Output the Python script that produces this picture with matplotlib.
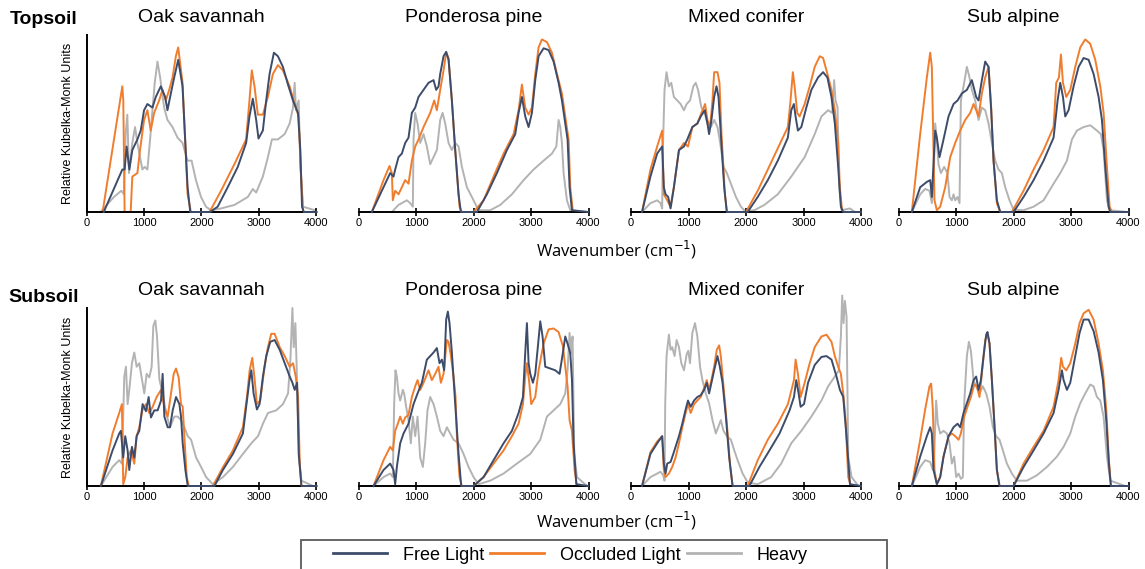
import matplotlib
matplotlib.use("Agg")
import matplotlib.pyplot as plt
from matplotlib.lines import Line2D
from matplotlib.patches import Rectangle

# ---------------- data (wavenumber cm-1, relative K-M units) ----------------
sites = ["Oak savannah", "Ponderosa pine", "Mixed conifer", "Sub alpine"]
rows = ["Topsoil", "Subsoil"]
series_names = ["Free Light", "Occluded Light", "Heavy"]
xticks = [0, 1000, 2000, 3000, 4000]

# ---- Topsoil ----
top_oak_free = [(300,0),(623,0.24),(663,0.24),(698,0.37),(745,0.24),(797,0.35),(885,0.41),(943,0.46),(1001,0.575),(1059,0.61),(1147,0.59),(1205,0.65),(1292,0.71),(1368,0.65),(1408,0.575),(1467,0.67),(1525,0.76),(1595,0.86),(1670,0.71),(1711,0.44),(1758,0.14),(1804,0),(2150,0),(2281,0.03),(2456,0.14),(2631,0.255),(2776,0.39),(2834,0.54),(2893,0.64),(2951,0.52),(2991,0.415),(3067,0.46),(3125,0.63),(3184,0.78),(3259,0.90),(3329,0.88),(3416,0.82),(3504,0.72),(3591,0.63),(3678,0.56),(3719,0.35),(3748,0.03),(3780,0),(4000,0)]
top_oak_occl = [(280,0),(623,0.71),(640,0.63),(663,0),(768,0),(797,0.20),(885,0.22),(931,0.35),(1001,0.52),(1059,0.575),(1117,0.46),(1176,0.56),(1263,0.63),(1321,0.69),(1379,0.63),(1438,0.69),(1496,0.76),(1554,0.88),(1595,0.93),(1670,0.73),(1711,0.44),(1758,0.10),(1816,0),(2140,0),(2340,0.12),(2572,0.27),(2776,0.41),(2834,0.63),(2875,0.80),(2922,0.71),(2980,0.55),(3067,0.55),(3154,0.65),(3242,0.78),(3329,0.83),(3416,0.80),(3533,0.71),(3620,0.61),(3690,0.54),(3725,0.25),(3766,0),(4000,0)]
top_oak_heavy = [(244,0),(477,0.085),(605,0.12),(652,0.10),(681,0.44),(710,0.55),(739,0.22),(797,0.39),(844,0.48),(885,0.39),(931,0.31),(972,0.24),(1013,0.255),(1059,0.24),(1106,0.41),(1147,0.575),(1187,0.73),(1234,0.85),(1281,0.76),(1350,0.59),(1408,0.52),(1496,0.48),(1583,0.42),(1670,0.39),(1758,0.29),(1828,0.29),(1903,0.18),(1991,0.085),(2078,0.03),(2165,0.01),(2340,0.02),(2573,0.04),(2806,0.085),(2893,0.13),(2951,0.11),(3067,0.20),(3155,0.31),(3225,0.41),(3329,0.41),(3446,0.44),(3533,0.50),(3591,0.59),(3620,0.73),(3643,0.575),(3690,0.63),(3719,0.255),(3766,0.03),(3970,0.01)]

top_pond_free = [(232,0),(435,0.14),(551,0.22),(609,0.20),(638,0.24),(696,0.31),(754,0.33),(812,0.39),(870,0.42),(928,0.56),(986,0.59),(1044,0.65),(1131,0.69),(1218,0.73),(1305,0.745),(1351,0.69),(1392,0.71),(1421,0.78),(1479,0.88),(1525,0.905),(1566,0.86),(1624,0.63),(1682,0.35),(1740,0.10),(1780,0),(2059,0),(2233,0.10),(2407,0.22),(2581,0.35),(2726,0.44),(2784,0.56),(2842,0.65),(2900,0.54),(2958,0.48),(3016,0.56),(3074,0.745),(3132,0.88),(3219,0.925),(3306,0.915),(3393,0.85),(3480,0.73),(3538,0.63),(3596,0.50),(3636,0.41),(3671,0.14),(3712,0.01),(4000,0)]
top_pond_occl = [(232,0),(435,0.18),(539,0.26),(580,0.22),(597,0.066),(638,0.12),(696,0.10),(754,0.14),(812,0.18),(870,0.16),(928,0.29),(986,0.37),(1044,0.41),(1131,0.48),(1189,0.52),(1247,0.56),(1317,0.63),(1363,0.575),(1421,0.69),(1479,0.80),(1525,0.90),(1566,0.87),(1624,0.63),(1682,0.35),(1757,0.03),(1798,0),(2001,0),(2175,0.066),(2349,0.20),(2523,0.33),(2697,0.44),(2784,0.575),(2842,0.72),(2900,0.59),(2958,0.55),(3016,0.59),(3074,0.78),(3132,0.93),(3190,0.975),(3277,0.96),(3364,0.90),(3451,0.78),(3538,0.67),(3613,0.50),(3654,0.41),(3683,0.14),(3729,0),(4000,0)]
top_pond_heavy = [(580,0),(696,0.04),(841,0.066),(899,0.05),(945,0.03),(957,0.41),(986,0.56),(1027,0.50),(1073,0.39),(1131,0.44),(1189,0.37),(1247,0.27),(1305,0.31),(1363,0.35),(1421,0.52),(1462,0.56),(1508,0.50),(1566,0.39),(1624,0.35),(1682,0.39),(1740,0.37),(1798,0.255),(1885,0.14),(2001,0.066),(2088,0.01),(2291,0.01),(2465,0.04),(2668,0.10),(2871,0.18),(3045,0.24),(3219,0.29),(3364,0.33),(3440,0.37),(3480,0.52),(3509,0.48),(3538,0.39),(3567,0.22),(3625,0.066),(3683,0.01),(3973,0)]

top_mixed_free = [(192,0),(338,0.20),(455,0.33),(542,0.37),(571,0.14),(601,0.10),(647,0.085),(688,0.02),(746,0.14),(834,0.35),(921,0.37),(979,0.41),(1067,0.48),(1154,0.50),(1213,0.54),(1283,0.575),(1329,0.50),(1358,0.44),(1399,0.52),(1446,0.65),(1487,0.71),(1522,0.65),(1562,0.44),(1621,0.14),(1667,0),(2029,0),(2204,0.085),(2379,0.18),(2553,0.29),(2728,0.42),(2787,0.575),(2833,0.61),(2862,0.54),(2903,0.46),(2962,0.48),(3049,0.59),(3137,0.69),(3253,0.76),(3341,0.79),(3416,0.76),(3486,0.65),(3545,0.50),(3603,0.255),(3650,0.03),(3691,0),(4000,0)]
top_mixed_occl = [(192,0),(338,0.24),(455,0.37),(542,0.46),(571,0.10),(630,0.066),(688,0.03),(746,0.14),(834,0.35),(921,0.39),(991,0.37),(1067,0.48),(1154,0.50),(1213,0.55),(1289,0.61),(1329,0.52),(1376,0.48),(1417,0.63),(1446,0.79),(1504,0.79),(1539,0.73),(1574,0.44),(1633,0.10),(1667,0),(2000,0),(2204,0.12),(2379,0.24),(2553,0.36),(2728,0.48),(2769,0.61),(2815,0.79),(2845,0.71),(2891,0.56),(2932,0.54),(3020,0.61),(3108,0.71),(3195,0.82),(3283,0.88),(3341,0.87),(3416,0.78),(3486,0.69),(3545,0.575),(3603,0.39),(3632,0.14),(3673,0),(4000,0)]
top_mixed_heavy = [(192,0),(338,0.05),(455,0.066),(513,0.05),(542,0.02),(554,0.35),(583,0.69),(618,0.79),(659,0.71),(700,0.73),(746,0.65),(805,0.63),(863,0.61),(921,0.575),(968,0.61),(1026,0.63),(1084,0.71),(1125,0.73),(1166,0.69),(1224,0.59),(1283,0.56),(1329,0.50),(1388,0.48),(1446,0.52),(1504,0.48),(1551,0.39),(1609,0.255),(1667,0.22),(1737,0.16),(1825,0.085),(1912,0.03),(1982,0.005),(2145,0.01),(2320,0.04),(2553,0.10),(2787,0.20),(3020,0.31),(3195,0.44),(3312,0.54),(3428,0.575),(3498,0.56),(3533,0.745),(3557,0.63),(3592,0.59),(3621,0.14),(3662,0.01),(3808,0.02),(3895,0)]

top_sub_free = [(232,0),(377,0.14),(493,0.17),(551,0.18),(580,0.085),(638,0.46),(667,0.42),(713,0.31),(783,0.41),(870,0.54),(957,0.61),(1027,0.63),(1102,0.67),(1189,0.69),(1276,0.745),(1351,0.65),(1392,0.63),(1450,0.745),(1508,0.85),(1566,0.82),(1612,0.575),(1653,0.29),(1711,0.066),(1769,0),(2001,0),(2175,0.085),(2349,0.18),(2523,0.29),(2697,0.42),(2767,0.63),(2813,0.73),(2860,0.65),(2900,0.54),(2958,0.575),(3045,0.71),(3132,0.82),(3219,0.87),(3306,0.86),(3393,0.78),(3480,0.65),(3538,0.52),(3596,0.255),(3654,0.03),(3683,0),(4000,0)]
top_sub_occl = [(232,0),(377,0.44),(493,0.76),(551,0.90),(580,0.82),(626,0.066),(667,0.01),(725,0.03),(812,0.14),(899,0.31),(986,0.39),(1073,0.46),(1160,0.52),(1247,0.56),(1305,0.61),(1351,0.575),(1392,0.54),(1450,0.67),(1508,0.76),(1566,0.82),(1612,0.59),(1653,0.29),(1711,0.05),(1769,0),(1972,0),(2175,0.12),(2349,0.24),(2523,0.35),(2697,0.48),(2743,0.73),(2790,0.76),(2825,0.89),(2860,0.73),(2918,0.65),(2987,0.69),(3074,0.82),(3161,0.93),(3248,0.975),(3335,0.95),(3422,0.86),(3509,0.71),(3567,0.56),(3625,0.255),(3671,0.03),(3712,0),(4000,0)]
top_sub_heavy = [(232,0),(377,0.10),(464,0.13),(539,0.12),(580,0.05),(609,0.16),(638,0.50),(667,0.41),(696,0.27),(737,0.22),(794,0.255),(852,0.22),(887,0.085),(928,0.066),(957,0.10),(986,0.066),(1027,0.085),(1061,0.05),(1085,0.63),(1131,0.71),(1189,0.82),(1235,0.76),(1276,0.69),(1334,0.63),(1392,0.52),(1450,0.59),(1508,0.575),(1566,0.50),(1624,0.39),(1682,0.29),(1740,0.24),(1798,0.22),(1856,0.14),(1931,0.066),(2001,0.013),(2175,0.01),(2349,0.03),(2523,0.066),(2697,0.16),(2813,0.22),(2929,0.29),(3016,0.41),(3103,0.46),(3219,0.48),(3335,0.49),(3451,0.46),(3520,0.44),(3567,0.35),(3625,0.066),(3671,0.01),(3973,0)]

# ---- Subsoil ----
sub_oak_free = [(250,0),(453,0.20),(569,0.295),(598,0.31),(639,0.16),(674,0.28),(715,0.20),(744,0.09),(790,0.22),(831,0.16),(872,0.28),(918,0.31),(976,0.46),(1034,0.42),(1081,0.50),(1121,0.385),(1179,0.425),(1237,0.425),(1296,0.48),(1324,0.63),(1354,0.39),(1412,0.33),(1452,0.33),(1499,0.425),(1557,0.50),(1615,0.46),(1644,0.39),(1673,0.24),(1720,0.09),(1761,0),(2226,0),(2372,0.09),(2546,0.18),(2720,0.295),(2790,0.48),(2837,0.60),(2866,0.65),(2906,0.52),(2964,0.43),(3010,0.46),(3068,0.615),(3126,0.73),(3196,0.81),(3272,0.82),(3360,0.765),(3447,0.69),(3534,0.615),(3581,0.58),(3621,0.54),(3662,0.58),(3692,0.18),(3738,0),(4000,0)]
sub_oak_occl = [(250,0),(453,0.295),(569,0.41),(616,0.46),(639,0.01),(674,0.05),(715,0.16),(773,0.20),(831,0.125),(872,0.28),(918,0.33),(976,0.43),(1034,0.46),(1092,0.41),(1150,0.445),(1220,0.50),(1296,0.54),(1354,0.445),(1412,0.39),(1470,0.52),(1517,0.63),(1557,0.66),(1603,0.61),(1644,0.46),(1673,0.445),(1702,0.28),(1743,0.05),(1778,0),(2197,0),(2372,0.105),(2546,0.20),(2720,0.33),(2790,0.50),(2837,0.65),(2883,0.72),(2924,0.60),(2964,0.46),(3022,0.48),(3097,0.67),(3155,0.78),(3213,0.855),(3272,0.855),(3360,0.78),(3447,0.73),(3534,0.67),(3592,0.69),(3639,0.615),(3680,0.50),(3709,0.125),(3738,0),(4000,0)]
sub_oak_heavy = [(250,0),(453,0.107),(569,0.145),(616,0.125),(657,0.615),(686,0.67),(715,0.46),(744,0.54),(790,0.69),(831,0.75),(872,0.67),(918,0.69),(964,0.60),(1005,0.52),(1046,0.63),(1092,0.61),(1133,0.67),(1162,0.90),(1197,0.93),(1226,0.84),(1267,0.60),(1325,0.52),(1383,0.41),(1452,0.33),(1528,0.39),(1586,0.39),(1644,0.37),(1702,0.33),(1761,0.28),(1819,0.26),(1906,0.16),(1993,0.107),(2080,0.05),(2197,0.01),(2372,0.05),(2546,0.107),(2720,0.18),(2866,0.24),(2983,0.28),(3068,0.35),(3155,0.41),(3300,0.425),(3417,0.46),(3505,0.52),(3546,0.71),(3581,1.0),(3604,0.78),(3633,0.915),(3662,0.59),(3692,0.16),(3738,0.03),(3941,0)]

sub_pond_free = [(261,0),(435,0.09),(551,0.126),(609,0.09),(638,0.01),(667,0.107),(725,0.24),(783,0.295),(870,0.35),(957,0.46),(1027,0.52),(1102,0.58),(1189,0.71),(1247,0.73),(1305,0.75),(1363,0.775),(1409,0.69),(1450,0.71),(1490,0.65),(1525,0.935),(1554,0.98),(1583,0.915),(1624,0.75),(1682,0.46),(1740,0.18),(1786,0),(2001,0),(2175,0.05),(2349,0.145),(2523,0.24),(2668,0.31),(2784,0.41),(2860,0.50),(2900,0.75),(2929,0.915),(2958,0.69),(2987,0.63),(3033,0.58),(3074,0.63),(3114,0.765),(3161,0.925),(3201,0.84),(3248,0.67),(3335,0.66),(3422,0.65),(3497,0.63),(3555,0.75),(3596,0.84),(3636,0.80),(3683,0.745),(3712,0.60),(3741,0.24),(3788,0.01),(4000,0)]
sub_pond_occl = [(261,0),(435,0.145),(551,0.22),(597,0.20),(638,0.31),(684,0.35),(725,0.39),(771,0.35),(812,0.385),(870,0.40),(928,0.50),(986,0.56),(1027,0.595),(1073,0.54),(1131,0.58),(1218,0.65),(1276,0.595),(1334,0.63),(1392,0.67),(1432,0.58),(1479,0.63),(1537,0.82),(1566,0.81),(1607,0.73),(1653,0.615),(1688,0.50),(1711,0.28),(1757,0.05),(1798,0),(2001,0),(2175,0.05),(2349,0.126),(2523,0.20),(2668,0.28),(2784,0.35),(2860,0.46),(2900,0.615),(2929,0.69),(2970,0.58),(3004,0.46),(3074,0.50),(3132,0.65),(3219,0.80),(3306,0.88),(3393,0.885),(3480,0.865),(3555,0.785),(3596,0.67),(3636,0.56),(3671,0.37),(3712,0.31),(3758,0.09),(3799,0),(4000,0)]
sub_pond_heavy = [(261,0),(435,0.05),(551,0.07),(597,0.05),(620,0.46),(643,0.65),(667,0.615),(696,0.52),(725,0.48),(771,0.54),(794,0.52),(829,0.445),(870,0.37),(910,0.24),(945,0.39),(986,0.28),(1027,0.39),(1073,0.16),(1119,0.107),(1160,0.24),(1200,0.425),(1247,0.50),(1305,0.46),(1363,0.39),(1421,0.31),(1479,0.28),(1537,0.33),(1595,0.295),(1653,0.26),(1740,0.24),(1827,0.18),(1914,0.107),(2001,0.05),(2088,0.01),(2291,0.03),(2523,0.07),(2755,0.126),(2987,0.18),(3161,0.26),(3277,0.39),(3393,0.425),(3509,0.46),(3596,0.52),(3636,0.65),(3671,0.86),(3694,0.745),(3723,0.84),(3752,0.18),(3799,0.05),(3973,0)]

sub_mixed_free = [(192,0),(338,0.18),(455,0.24),(542,0.28),(571,0.126),(601,0.07),(630,0.126),(688,0.135),(735,0.18),(775,0.22),(834,0.28),(892,0.35),(950,0.43),(991,0.48),(1038,0.445),(1096,0.48),(1154,0.50),(1213,0.51),(1271,0.54),(1318,0.58),(1358,0.52),(1399,0.58),(1446,0.65),(1504,0.73),(1545,0.67),(1592,0.58),(1650,0.39),(1708,0.16),(1767,0),(2058,0),(2233,0.107),(2408,0.20),(2583,0.295),(2758,0.425),(2834,0.50),(2874,0.595),(2915,0.52),(2950,0.445),(3009,0.46),(3079,0.58),(3195,0.68),(3312,0.725),(3400,0.73),(3487,0.71),(3574,0.615),(3633,0.54),(3691,0.50),(3749,0.275),(3808,0.01),(4000,0)]
sub_mixed_occl = [(192,0),(338,0.19),(455,0.25),(542,0.28),(571,0.09),(601,0.05),(659,0.07),(717,0.107),(775,0.16),(834,0.24),(892,0.33),(950,0.41),(991,0.46),(1038,0.41),(1096,0.46),(1154,0.48),(1213,0.50),(1283,0.56),(1318,0.595),(1358,0.54),(1399,0.595),(1446,0.67),(1492,0.765),(1533,0.79),(1562,0.73),(1609,0.56),(1667,0.35),(1726,0.107),(1767,0),(2029,0),(2204,0.145),(2379,0.26),(2554,0.35),(2729,0.46),(2834,0.595),(2863,0.71),(2903,0.63),(2950,0.50),(3020,0.58),(3108,0.69),(3195,0.78),(3312,0.84),(3400,0.85),(3487,0.81),(3545,0.73),(3603,0.67),(3650,0.63),(3691,0.52),(3732,0.37),(3778,0.05),(3825,0),(4000,0)]
sub_mixed_heavy = [(192,0),(338,0.05),(455,0.07),(513,0.08),(560,0.06),(583,0.03),(595,0.46),(618,0.73),(659,0.85),(688,0.765),(717,0.78),(758,0.73),(793,0.82),(834,0.78),(875,0.69),(921,0.65),(968,0.74),(997,0.76),(1026,0.69),(1067,0.86),(1113,0.915),(1154,0.84),(1201,0.67),(1242,0.595),(1300,0.52),(1358,0.465),(1417,0.37),(1475,0.295),(1516,0.33),(1562,0.37),(1609,0.31),(1667,0.28),(1737,0.26),(1796,0.20),(1854,0.145),(1941,0.07),(2029,0.02),(2204,0.01),(2437,0.05),(2612,0.126),(2787,0.24),(2962,0.31),(3137,0.39),(3312,0.48),(3428,0.56),(3545,0.615),(3615,0.65),(3650,0.84),(3673,1.07),(3697,0.915),(3720,1.04),(3749,0.95),(3778,0.16),(3837,0.05),(3953,0)]

sub_sub_free = [(232,0),(377,0.165),(493,0.28),(551,0.33),(580,0.295),(609,0.09),(667,0.01),(725,0.05),(783,0.165),(870,0.28),(957,0.33),(1027,0.35),(1073,0.33),(1131,0.41),(1189,0.465),(1247,0.52),(1305,0.595),(1351,0.615),(1392,0.54),(1432,0.595),(1479,0.73),(1525,0.85),(1548,0.865),(1583,0.80),(1624,0.595),(1664,0.37),(1711,0.09),(1757,0),(2001,0),(2175,0.107),(2349,0.20),(2523,0.295),(2697,0.41),(2784,0.54),(2842,0.65),(2871,0.595),(2929,0.54),(2987,0.58),(3074,0.73),(3149,0.86),(3219,0.935),(3306,0.935),(3393,0.87),(3480,0.75),(3555,0.595),(3613,0.37),(3659,0.126),(3694,0),(4000,0)]
sub_sub_occl = [(232,0),(377,0.26),(464,0.43),(539,0.56),(568,0.575),(597,0.43),(626,0.09),(667,0.01),(725,0.05),(783,0.165),(870,0.28),(928,0.295),(986,0.28),(1044,0.26),(1085,0.295),(1143,0.39),(1200,0.445),(1259,0.50),(1317,0.57),(1363,0.56),(1409,0.50),(1450,0.63),(1508,0.82),(1548,0.855),(1583,0.80),(1624,0.595),(1664,0.37),(1711,0.09),(1757,0),(2001,0),(2175,0.126),(2349,0.22),(2523,0.31),(2697,0.445),(2784,0.595),(2830,0.72),(2860,0.67),(2918,0.65),(2987,0.69),(3074,0.80),(3149,0.915),(3219,0.97),(3306,0.99),(3393,0.935),(3480,0.80),(3555,0.65),(3613,0.43),(3659,0.145),(3694,0),(4000,0)]
sub_sub_heavy = [(232,0),(377,0.107),(464,0.145),(551,0.135),(597,0.09),(620,0.165),(655,0.48),(684,0.35),(725,0.295),(783,0.31),(841,0.295),(887,0.24),(928,0.126),(968,0.165),(1003,0.05),(1044,0.07),(1085,0.04),(1119,0.05),(1143,0.465),(1189,0.73),(1224,0.81),(1259,0.76),(1305,0.595),(1351,0.56),(1409,0.52),(1467,0.56),(1525,0.52),(1583,0.445),(1641,0.33),(1699,0.28),(1757,0.26),(1815,0.20),(1885,0.126),(1972,0.07),(2059,0.03),(2233,0.03),(2407,0.06),(2581,0.107),(2755,0.165),(2871,0.22),(2987,0.295),(3074,0.39),(3161,0.465),(3248,0.52),(3335,0.57),(3393,0.56),(3451,0.50),(3509,0.48),(3567,0.39),(3625,0.165),(3683,0.03),(3944,0)]

panels = [
    [(top_oak_free, top_oak_occl, top_oak_heavy),
     (top_pond_free, top_pond_occl, top_pond_heavy),
     (top_mixed_free, top_mixed_occl, top_mixed_heavy),
     (top_sub_free, top_sub_occl, top_sub_heavy)],
    [(sub_oak_free, sub_oak_occl, sub_oak_heavy),
     (sub_pond_free, sub_pond_occl, sub_pond_heavy),
     (sub_mixed_free, sub_mixed_occl, sub_mixed_heavy),
     (sub_sub_free, sub_sub_occl, sub_sub_heavy)],
]

colors = ["#3d4c6b", "#f07d2e", "#b3b3b3"]

# ---------------- figure ----------------
W, H = 1145, 569
plt.rcParams['font.family'] = ['Liberation Sans', 'DejaVu Sans']
fig = plt.figure(figsize=(W / 100, H / 100), dpi=100)

col_left = [86.5, 358.5, 631, 898.5]
col_w = 230
row_top = [35, 308]
row_bot = [212, 486]

for r in range(2):
    for c in range(4):
        l = col_left[c] / W
        b = 1 - row_bot[r] / H
        h = (row_bot[r] - row_top[r]) / H
        ax = fig.add_axes([l, b, col_w / W, h])
        free, occl, heavy = panels[r][c]
        for data, colr, z in ((heavy, colors[2], 1), (occl, colors[1], 2), (free, colors[0], 3)):
            xs = [p[0] for p in data]
            ys = [p[1] for p in data]
            ax.plot(xs, ys, color=colr, lw=1.4, zorder=z, clip_on=False,
                    solid_joinstyle='round')
        ax.set_xlim(0, 4000)
        ax.set_ylim(0, 1)
        ax.set_xticks(xticks)
        ax.set_xticklabels([str(t) for t in xticks], fontsize=8)
        ax.tick_params(axis='x', direction='inout', length=6, width=1.2, pad=1.5,
                       colors='black')
        ax.set_yticks([])
        for s in ('top', 'right'):
            ax.spines[s].set_visible(False)
        ax.spines['bottom'].set_linewidth(1.4)
        ax.spines['left'].set_linewidth(1.4)
        if c != 0:
            ax.spines['left'].set_visible(False)
        else:
            ax.set_ylabel("Relative Kubelka-Monk Units", fontsize=9, labelpad=9)
        ax.text(0.5, 1.0 + 17 / 177, sites[c], transform=ax.transAxes,
                ha='center', va='center', fontsize=14)

# row labels
fig.text(10 / W, 1 - 19 / H, "Topsoil", fontsize=14, fontweight='bold', va='center', ha='left')
fig.text(8 / W, 1 - 297 / H, "Subsoil", fontsize=14, fontweight='bold', va='center', ha='left')

# x-axis labels
for yy in (250, 521):
    fig.text(616 / W, 1 - yy / H, "Wavenumber (cm$^{-1}$)", fontsize=12,
             ha='center', va='center', family=['Open Sans', 'DejaVu Sans'])

# legend frame and entries
fig.add_artist(Rectangle((301 / W, -10 / H), (887 - 301) / W, (H + 10 - 540) / H,
                         transform=fig.transFigure, fill=False,
                         edgecolor='#5a5a5a', linewidth=1.3))
handles = [Line2D([0], [0], color=colors[i], lw=2) for i in range(3)]
leg = fig.legend(handles, series_names, loc='center left',
                 bbox_to_anchor=(333 / W, 1 - 555 / H), ncol=3, fontsize=13,
                 frameon=False, handlelength=3.0,
                 handletextpad=0.85, columnspacing=0.35, borderpad=0,
                 borderaxespad=0)

fig.savefig("out.png", dpi=100)
